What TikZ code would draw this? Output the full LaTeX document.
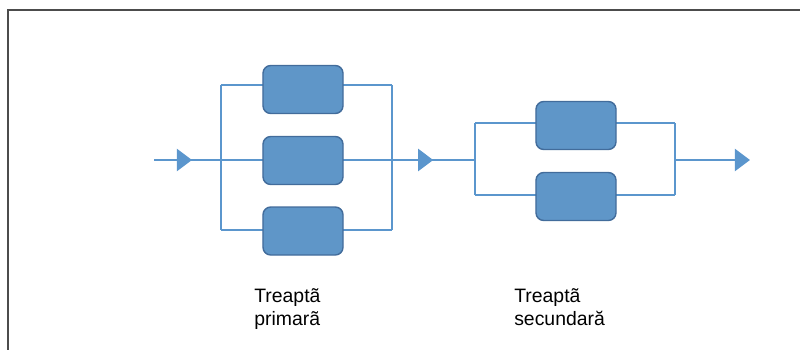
\documentclass[tikz,border=0pt]{standalone}
\usepackage{fontspec}
\setmainfont{Liberation Sans}
\usetikzlibrary{arrows.meta,decorations.markings}
\definecolor{boxfill}{RGB}{95,150,200}
\definecolor{boxedge}{RGB}{66,108,155}
\definecolor{wire}{RGB}{91,150,205}
\tikzset{
  unit/.style={draw=boxedge, fill=boxfill, line width=1pt, rounded corners=5.5pt,
    minimum width=2cm, minimum height=1.2cm, inner sep=0pt},
  wire/.style={draw=wire, line width=2.1pt},
  flow/.style={wire, postaction={decorate}, decoration={markings,
    mark=at position #1 with {\arrow[wire]{Triangle[length=0.38cm, width=0.55cm]}}}},
  label/.style={align=left, anchor=north west, inner sep=0pt,
    font=\fontsize{13.8}{16.3}\selectfont}
}
\begin{document}
\begin{tikzpicture}[x=0.025cm, y=-0.025cm]
  \useasboundingbox (0,0) rectangle (800,350);
  \draw[gray!60!black, line width=1pt] (800,10) -- (8,10) -- (8,350);
  \coordinate (in) at (154,160);
  \coordinate (pLt) at (221,85);  \coordinate (pLm) at (221,160); \coordinate (pLb) at (221,230);
  \coordinate (pRt) at (392,85);  \coordinate (pRm) at (392,160); \coordinate (pRb) at (392,230);
  \coordinate (sLt) at (475,123); \coordinate (sLm) at (475,160); \coordinate (sLb) at (475,195);
  \coordinate (sRt) at (675,123); \coordinate (sRm) at (675,160); \coordinate (sRb) at (675,195);
  \coordinate (out) at (750,160);
  \draw[wire]
    (pLt) -- (pRt) (pLm) -- (pRm) (pLb) -- (pRb)
    (pLt) -- (pLb) (pRt) -- (pRb)
    (sLt) -- (sRt) (sLb) -- (sRb)
    (sLt) -- (sLb) (sRt) -- (sRb);
  \draw[flow=0.95cm] (in) -- (pLm);
  \draw[flow=1.03cm] (pRm) -- (sLm);
  \draw[wire, -{Triangle[length=0.38cm, width=0.55cm]}] (sRm) -- (out);
  \node[unit] (p1) at (303,89.5) {};
  \node[unit] (p2) at (303,160.5) {};
  \node[unit] (p3) at (303,231) {};
  \node[unit] (s1) at (576,125.5) {};
  \node[unit] (s2) at (576,196.5) {};
  \node[label] (lblP) at (254,288) {Treaptã\\primarã};
  \node[label] (lblS) at (514,288) {Treaptã\\secundară};
\end{tikzpicture}
\end{document}
